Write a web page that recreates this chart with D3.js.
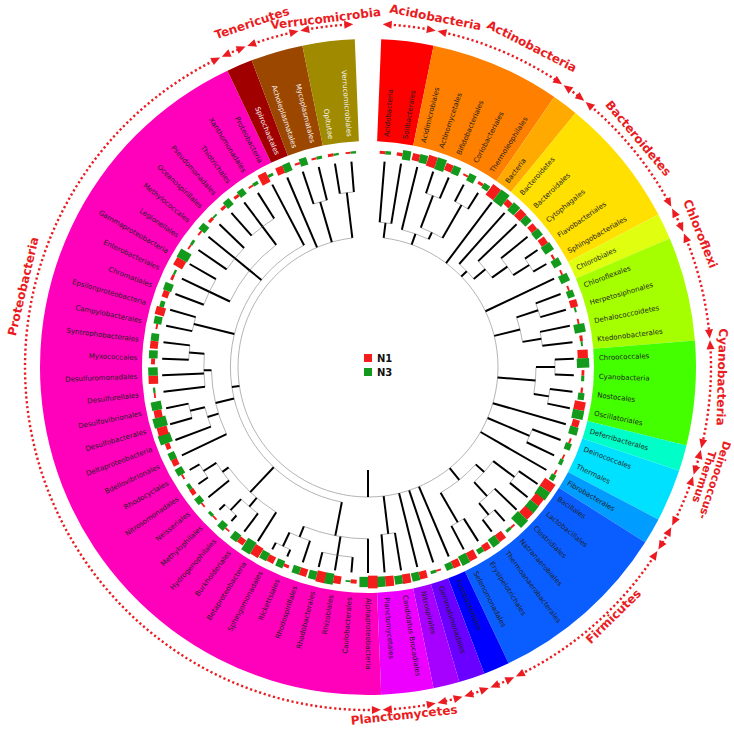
<!DOCTYPE html>
<html>
<head>
<meta charset="utf-8">
<script src="https://cdn.jsdelivr.net/npm/d3@7"></script>
<style>
  body { margin: 0; background: #fff; }
  svg { display: block; }
</style>
</head>
<body>
<svg id="chart"></svg>
<script>
// phyla in leaf order, how many orders each one holds, and ring colours
const phyla = ["Acidobacteria","Actinobacteria","Bacteria","Bacteroidetes","Chlorobi","Chloroflexi",
  "Cyanobacteria","Deferribacteres","Deinococcus-Thermus","Fibrobacteres","Firmicutes","Fusobacteria",
  "Gemmatimonadetes","Nitrospirae","Planctomycetes","Proteobacteria","Spirochaetes","Tenericutes","Verrucomicrobia"];
const phylumSizes = [2,5,1,5,1,4,4,1,2,1,7,1,1,1,2,34,1,2,2];
const phylumColors = ["#ff0000","#ff8000","#ffaa00","#ffe000","#e0ff10","#a6ff00","#44ff00","#00ffc8",
  "#00e1ff","#009cff","#0a5eff","#0000ff","#6a00ff","#a600ff","#ee00ff","#ff00bb","#a00000","#9c4700","#a08a00"];
// outer red labels ("|" = line break), empty = no label
const outerLabels = ["Acidobacteria","Actinobacteria","","Bacteroidetes","","Chloroflexi","Cyanobacteria","",
  "Deinococcus-|Thermus","","Firmicutes","","","","Planctomycetes","Proteobacteria","","Tenericutes","Verrucomicrobia"];

// tree of orders (newick, internal branch lengths as fraction of root->leaf distance)
const newick =
  "((Acidobacteria,Solibacterales):0.2," +
  "(Acidimicrobiales,((Actinomycetales,Bifidobacteriales):0.45,(Coriobacteriales,Thermoleophilales):0.5):0.1):0.15," +
  "Bacteria," +
  "(Bacteroidetes,(Bacteroidales,(Cytophagales,(Flavobacteriales,Sphingobacteriales):0.25):0.25):0.2):0.1," +
  "Chlorobiales," +
  "((Chloroflexales,Herpetosiphonales):0.3,(Dehalococcoidetes,Ktedonobacterales):0.25):0.35," +
  "((Chroococcales,Cyanobacteria):0.25,(Nostocales,Oscillatoriales):0.2):0.5," +
  "Deferribacterales," +
  "(Deinococcales,Thermales):0.6," +
  "Fibrobacterales," +
  "(((Bacillales,Lactobacillales):0.35,(Clostridiales,(Natranaerobiales,Thermoanaerobacterales):0.2):0.25):0.15,(Erysipelotrichales,Selenomonadales):0.45):0.2," +
  "Fusobacteriales,Gemmatimonadales,Nitrospirales," +
  "(Candidatus Brocadiales,Planctomycetales):0.5," +
  "((Alphaproteobacteria,(Caulobacterales,Rhizobiales,Rhodobacterales):0.25,(Rhodospirillales,(Rickettsiales,Sphingomonadales):0.2):0.15):0.45," +
  "(Betaproteobacteria,(Burkholderiales,(Hydrogenophilales,Methylophilales):0.2):0.15,(Neisseriales,(Nitrosomonadales,Rhodocyclales):0.2):0.1):0.45," +
  "(Bdellovibrionales,(Deltaproteobacteria,(Desulfobacterales,Desulfovibrionales):0.2):0.15,(Desulfurellales,Desulfuromonadales,(Myxococcales,Syntrophobacterales):0.2):0.1):0.25," +
  "(Campylobacterales,Epsilonproteobacteria):0.55," +
  "((Chromatiales,Enterobacteriales,Gammaproteobacteria):0.3,(Legionellales,Methylococcales,Oceanospirillales):0.25,(Pseudomonadales,Thiotrichales,Xanthomonadales):0.3):0.2," +
  "Proteobacteria):0.1," +
  "Spirochaetales," +
  "(Acholeplasmatales,Mycoplasmatales):0.55," +
  "(Opitutae,Verrucomicrobiales):0.6);";

// relative abundance per order (leaf order), N1 = red, N3 = green
const n1 = [0.10,0.12,0.35,0.62,0.38,0.03,0.10,0.72,0.30,0.50,
            0.35,0.38,0.05,0.03,0.03,0.38,0.03,0.10,0.55,0.08,
            0.05,0.60,0.35,0.03,0.02,0.02,0.70,0.55,0.60,0.03,
            0.45,0.35,0.50,0.40,0.02,0.40,0.50,0.55,0.70,0.15,
            0.40,0.60,0.40,0.10,0.35,0.60,0.30,0.02,0.02,0.02,
            0.20,0.03,0.30,0.20,0.55,0.40,0.02,0.50,0.15,0.40,
            0.03,0.50,0.30,0.08,0.55,0.02,0.03,0.10,0.10,0.10,
            0.03,0.60,0.40,0.05,0.03,0.10,0.03];
const n3 = [0.12,0.50,0.45,0.68,0.45,0.42,0.28,0.80,0.55,0.45,
            0.45,0.55,0.45,0.50,0.35,0.03,0.60,0.03,0.68,0.10,
            0.30,0.62,0.45,0.30,0.15,0.22,0.70,0.60,0.78,0.10,
            0.50,0.25,0.55,0.35,0.10,0.45,0.45,0.55,0.55,0.02,
            0.60,0.45,0.40,0.40,0.45,0.75,0.45,0.40,0.10,0.35,
            0.15,0.40,0.35,0.70,0.75,0.55,0.05,0.50,0.45,0.40,
            0.40,0.20,0.45,0.05,0.65,0.08,0.40,0.03,0.40,0.35,
            0.12,0.10,0.45,0.40,0.10,0.05,0.05];

const seriesNames = ["N1", "N3"];
const seriesColors = ["#f51c1c", "#139a1c"];

// ---- parse newick into nested object ----
function parseNewick(s) {
  const tokens = s.split(/\s*(;|\(|\)|,|:)\s*/).filter(t => t.length);
  const ancestors = [];
  let tree = {};
  for (let i = 0; i < tokens.length; i++) {
    const t = tokens[i];
    if (t === "(") { const sub = {}; tree.children = [sub]; ancestors.push(tree); tree = sub; }
    else if (t === ",") { const sib = {}; ancestors[ancestors.length - 1].children.push(sib); tree = sib; }
    else if (t === ")") { tree = ancestors.pop(); }
    else if (t === ":" || t === ";") { }
    else {
      const prev = tokens[i - 1];
      if (prev === ":") tree.length = parseFloat(t);
      else tree.name = t;
    }
  }
  return tree;
}

const W = 734, H = 729, cx = 368, cy = 367;
const svg = d3.select("#chart").attr("width", W).attr("height", H);
const g = svg.append("g").attr("transform", `translate(${cx},${cy})`);

const nLeaves = n1.length;
const step = 360 / (nLeaves + 1);
const angleScale = d3.scaleLinear().domain([0, nLeaves - 1]).range([step, nLeaves * step]);
const rScale = d3.scaleLinear().domain([0, 1]).range([130, 206]);
const barLen = d3.scaleLinear().domain([0, 1]).range([1.5, 17.5]);
const barWid = d3.scaleLinear().domain([0, 1]).range([5, 11.5]);

const rad = a => a * Math.PI / 180;
const pt = (a, r) => [r * Math.sin(rad(a)), -r * Math.cos(rad(a))];

// ---- tree layout ----
const root = d3.hierarchy(parseNewick(newick));
root.leaves().forEach((d, i) => { d.angle = angleScale(i); d.idx = i; });
root.eachBefore(d => { d.dist = d.parent ? d.parent.dist + (d.data.length || 0) : 0; });
root.eachAfter(d => {
  if (d.children) {
    d.angle = (d.children[0].angle + d.children[d.children.length - 1].angle) / 2;
    d.r = rScale(d.dist);
  } else {
    d.r = rScale(1);
  }
});

// phylum index per leaf
const leafPhylum = [];
phylumSizes.forEach((n, p) => { for (let k = 0; k < n; k++) leafPhylum.push(p); });
let acc = 0;
const phylumSpan = phylumSizes.map(n => {
  const s = { a0: (acc + 0.5) * step, a1: (acc + n + 0.5) * step };
  acc += n; return s;
});

// ---- coloured ring ----
const ringArc = d3.arc().innerRadius(226).outerRadius(328);
g.append("g").selectAll("path")
  .data(phylumSpan)
  .join("path")
  .attr("d", d => ringArc({ startAngle: rad(d.a0), endAngle: rad(d.a1) }))
  .attr("fill", (d, i) => phylumColors[i]);

// ---- leaf labels ----
const darkPhyla = ["Spirochaetes", "Tenericutes", "Verrucomicrobia"];
g.append("g").selectAll("text")
  .data(root.leaves())
  .join("text")
  .attr("transform", d => `rotate(${d.angle - 90}) translate(231,0)` + (d.angle > 180.01 ? " rotate(180)" : ""))
  .attr("text-anchor", d => d.angle > 180.01 ? "end" : "start")
  .attr("dy", "0.35em")
  .attr("font-family", "DejaVu Sans, Verdana, sans-serif")
  .attr("font-size", 7)
  .attr("fill", d => darkPhyla.includes(phyla[leafPhylum[d.idx]]) ? "#f4f4f4" : "#1e1e1e")
  .text(d => d.data.name);

// ---- tree: gray arcs + black radial branches ----
function arcPath(a0, a1, r) {
  const p0 = pt(a0, r), p1 = pt(a1, r);
  const large = (a1 - a0) > 180 ? 1 : 0;
  return `M${p0[0]},${p0[1]}A${r},${r} 0 ${large} 1 ${p1[0]},${p1[1]}`;
}
const treeG = g.append("g");
treeG.selectAll("path.arc")
  .data(root.descendants().filter(d => d.children))
  .join("path")
  .attr("class", "arc")
  .attr("d", d => arcPath(d.children[0].angle, d.children[d.children.length - 1].angle, d.r))
  .attr("fill", "none")
  .attr("stroke", "#b4b4b4")
  .attr("stroke-width", 1);

treeG.selectAll("line.branch")
  .data(root.descendants().filter(d => d.parent))
  .join("line")
  .attr("class", "branch")
  .attr("x1", d => pt(d.angle, d.parent.r)[0])
  .attr("y1", d => pt(d.angle, d.parent.r)[1])
  .attr("x2", d => pt(d.angle, d.r)[0])
  .attr("y2", d => pt(d.angle, d.r)[1])
  .attr("stroke", "#000")
  .attr("stroke-width", 2);

// root stem
treeG.append("line")
  .attr("x1", pt(root.angle, 103)[0]).attr("y1", pt(root.angle, 103)[1])
  .attr("x2", pt(root.angle, root.r)[0]).attr("y2", pt(root.angle, root.r)[1])
  .attr("stroke", "#000").attr("stroke-width", 2);

// ---- N1 / N3 bars at leaf tips ----
const barR = 215;
const bars = g.append("g").selectAll("g")
  .data(root.leaves())
  .join("g")
  .attr("transform", d => `rotate(${d.angle - 90})`);
bars.append("rect")
  .attr("x", d => barR - barLen(n1[d.idx]) / 2)
  .attr("y", d => -barWid(n1[d.idx]))
  .attr("width", d => barLen(n1[d.idx]))
  .attr("height", d => barWid(n1[d.idx]))
  .attr("fill", seriesColors[0]);
bars.append("rect")
  .attr("x", d => barR - barLen(n3[d.idx]) / 2)
  .attr("y", 0)
  .attr("width", d => barLen(n3[d.idx]))
  .attr("height", d => barWid(n3[d.idx]))
  .attr("fill", seriesColors[1]);

// ---- outer dotted arcs with arrow heads ----
const red = "#ea1c22";
const rDot = 343;
const arrowDeg = 9 / rDot * 180 / Math.PI;
const outer = g.append("g");
phylumSpan.forEach(s => {
  outer.append("path")
    .attr("d", arcPath(s.a0 + arrowDeg * 0.8, s.a1 - arrowDeg * 0.8, rDot))
    .attr("fill", "none")
    .attr("stroke", red)
    .attr("stroke-width", 2.4)
    .attr("stroke-dasharray", "2.2,2.6");
  [[s.a0 + 0.15, s.a0 + 0.15 + arrowDeg], [s.a1 - 0.15, s.a1 - 0.15 - arrowDeg]].forEach(([tip, base]) => {
    const p = [pt(tip, rDot), pt(base, rDot - 4), pt(base, rDot + 4)];
    outer.append("path")
      .attr("d", "M" + p.map(q => q.join(",")).join("L") + "Z")
      .attr("fill", red);
  });
});

// ---- outer phylum labels ----
// small angle / radius nudges so neighbouring labels do not collide
const labelShift = { "Acidobacteria": 4, "Actinobacteria": 4, "Bacteroidetes": -1, "Chloroflexi": -8,
  "Cyanobacteria": -3, "Deinococcus-Thermus": -5, "Firmicutes": -3, "Planctomycetes": 1,
  "Proteobacteria": 27, "Tenericutes": -2.5 };
const labelRadius = { "Acidobacteria": 352, "Actinobacteria": 356, "Chloroflexi": 354,
  "Tenericutes": 359, "Verrucomicrobia": 347, "Deinococcus-Thermus": 350 };
outerLabels.forEach((lab, i) => {
  if (!lab) return;
  const a = (phylumSpan[i].a0 + phylumSpan[i].a1) / 2 + (labelShift[phyla[i]] || 0);
  const lines = lab.split("|");
  const flip = a > 120 && a < 240;
  const r0 = labelRadius[phyla[i]] || (flip ? 354 : 350);
  const fs = lines.length > 1 ? 11 : 12;
  const lg = g.append("g").attr("transform", `rotate(${flip ? a - 180 : a})`);
  lines.forEach((ln, j) => {
    lg.append("text")
      .attr("x", 0)
      .attr("y", flip ? r0 + 13 * j : -(r0 + 11 * (lines.length - 1 - j)))
      .attr("text-anchor", "middle")
      .attr("font-family", "DejaVu Sans, Verdana, sans-serif")
      .attr("font-weight", "bold")
      .attr("font-size", fs)
      .attr("fill", red)
      .text(ln);
  });
});

// ---- legend in the centre ----
const legend = g.append("g");
seriesNames.forEach((nm, i) => {
  legend.append("rect")
    .attr("x", -4).attr("y", -13 + i * 14)
    .attr("width", 8).attr("height", 8)
    .attr("fill", seriesColors[i]);
  legend.append("text")
    .attr("x", 9).attr("y", -5 + i * 14)
    .attr("font-family", "DejaVu Sans, Verdana, sans-serif")
    .attr("font-weight", "bold")
    .attr("font-size", 10)
    .attr("fill", "#111")
    .text(nm);
});
</script>
</body>
</html>
